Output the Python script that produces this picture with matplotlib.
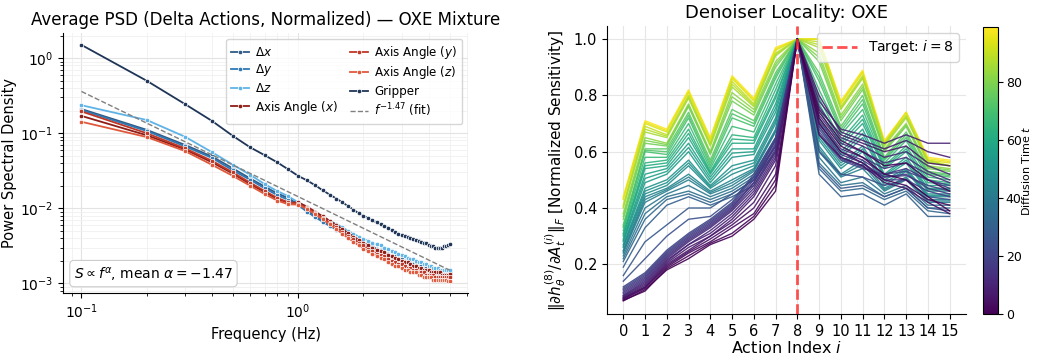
import matplotlib
matplotlib.use("Agg")
import matplotlib.pyplot as plt
import numpy as np

# ---------------- Left panel data ----------------
freqs = [0.1, 0.2, 0.3, 0.4, 0.5, 0.6, 0.7, 0.8, 0.9, 1.0,
         1.1, 1.2, 1.3, 1.4, 1.5, 1.6, 1.7, 1.8, 1.9, 2.0,
         2.1, 2.2, 2.3, 2.4, 2.5, 2.6, 2.7, 2.8, 2.9, 3.0,
         3.1, 3.2, 3.3, 3.4, 3.5, 3.6, 3.7, 3.8, 3.9, 4.0,
         4.1, 4.2, 4.3, 4.4, 4.5, 4.6, 4.7, 4.8, 4.9, 5.0]

psd_dx = [0.210, 0.111, 0.070, 0.049, 0.034, 0.025, 0.0195, 0.0158, 0.0137, 0.0113,
          0.0093, 0.0078, 0.0068, 0.0060, 0.0054, 0.0049, 0.0045, 0.0041, 0.0038, 0.0035,
          0.0033, 0.0031, 0.0029, 0.0028, 0.0026, 0.0025, 0.0024, 0.0023, 0.0022, 0.0021,
          0.0020, 0.0020, 0.0019, 0.0018, 0.0018, 0.0017, 0.0017, 0.0016, 0.0016, 0.0016,
          0.0015, 0.0015, 0.0015, 0.0014, 0.0014, 0.0014, 0.0014, 0.0014, 0.0014, 0.0014]
psd_dy = [0.203, 0.107, 0.067, 0.047, 0.032, 0.024, 0.0185, 0.0150, 0.0130, 0.0110,
          0.0090, 0.0076, 0.0066, 0.0058, 0.0052, 0.0047, 0.0043, 0.0039, 0.0036, 0.0033,
          0.0031, 0.0029, 0.0028, 0.0026, 0.0025, 0.0024, 0.0023, 0.0022, 0.0021, 0.0020,
          0.0019, 0.0019, 0.0018, 0.0017, 0.0017, 0.0016, 0.0016, 0.0015, 0.0015, 0.0015,
          0.0014, 0.0014, 0.0014, 0.0014, 0.0013, 0.0013, 0.0013, 0.0013, 0.0013, 0.0013]
psd_dz = [0.236, 0.150, 0.090, 0.056, 0.038, 0.028, 0.021, 0.017, 0.0145, 0.0120,
          0.0100, 0.0086, 0.0076, 0.0068, 0.0062, 0.0056, 0.0050, 0.0046, 0.0042, 0.0039,
          0.0037, 0.0035, 0.0033, 0.0032, 0.0030, 0.0029, 0.0027, 0.0026, 0.0025, 0.0024,
          0.0023, 0.0022, 0.0021, 0.0021, 0.0020, 0.0019, 0.0019, 0.0018, 0.0018, 0.0017,
          0.0017, 0.0016, 0.0016, 0.0016, 0.0015, 0.0015, 0.0015, 0.0015, 0.0015, 0.0015]
psd_aax = [0.170, 0.094, 0.061, 0.041, 0.029, 0.021, 0.0165, 0.0133, 0.0118, 0.0120,
           0.0105, 0.0090, 0.0078, 0.0068, 0.0060, 0.0053, 0.0047, 0.0042, 0.0038, 0.0035,
           0.0032, 0.0030, 0.0028, 0.0027, 0.0026, 0.0024, 0.0023, 0.0022, 0.0021, 0.0020,
           0.0019, 0.0019, 0.0018, 0.0017, 0.0017, 0.0016, 0.0016, 0.0015, 0.0015, 0.0015,
           0.0014, 0.0014, 0.0014, 0.0014, 0.0014, 0.0013, 0.0013, 0.0013, 0.0013, 0.00135]
psd_aay = [0.195, 0.100, 0.063, 0.043, 0.030, 0.022, 0.017, 0.0138, 0.0120, 0.0115,
           0.0100, 0.0086, 0.0074, 0.0064, 0.0056, 0.0049, 0.0043, 0.0039, 0.0035, 0.0032,
           0.0029, 0.0027, 0.0025, 0.0024, 0.0023, 0.0021, 0.0020, 0.0019, 0.0018, 0.0018,
           0.0017, 0.0016, 0.0016, 0.0015, 0.0015, 0.0014, 0.0014, 0.0014, 0.0013, 0.0013,
           0.0013, 0.0013, 0.0012, 0.0012, 0.0012, 0.0012, 0.0012, 0.0012, 0.0012, 0.0012]
psd_aaz = [0.142, 0.089, 0.058, 0.038, 0.027, 0.020, 0.0155, 0.0127, 0.0113, 0.0112,
           0.0097, 0.0083, 0.0071, 0.0061, 0.0053, 0.0046, 0.0040, 0.0036, 0.0032, 0.0029,
           0.0027, 0.0025, 0.0023, 0.0022, 0.0021, 0.0019, 0.0018, 0.0017, 0.0017, 0.0016,
           0.0015, 0.0015, 0.0014, 0.0014, 0.0014, 0.0013, 0.0013, 0.0012, 0.0012, 0.0012,
           0.0012, 0.0011, 0.0011, 0.0011, 0.0011, 0.0011, 0.0011, 0.0011, 0.00107, 0.00107]
psd_grip = [1.50, 0.50, 0.245, 0.146, 0.092, 0.065, 0.051, 0.041, 0.033, 0.027,
            0.0235, 0.0202, 0.0173, 0.0152, 0.0135, 0.0120, 0.0107, 0.0096, 0.0086, 0.0080,
            0.0074, 0.0069, 0.0065, 0.0061, 0.0058, 0.0055, 0.0051, 0.0049, 0.0046, 0.0044,
            0.0043, 0.0041, 0.0040, 0.0039, 0.0038, 0.0037, 0.0036, 0.0035, 0.0034, 0.0032,
            0.0031, 0.0031, 0.0030, 0.0030, 0.0030, 0.0030, 0.0031, 0.0031, 0.0032, 0.0033]

series_labels = [r"$\Delta x$", r"$\Delta y$", r"$\Delta z$", r"Axis Angle ($x$)",
                 r"Axis Angle ($y$)", r"Axis Angle ($z$)", "Gripper"]
series_values = [psd_dx, psd_dy, psd_dz, psd_aax, psd_aay, psd_aaz, psd_grip]
series_colors = ["#2f5b86", "#3279b3", "#5fb3e6", "#8e1d16", "#bf3727", "#e0583b", "#1f3557"]

fit_alpha = -1.47
fit_freq = [0.1, 5.0]
fit_psd = [0.36, 0.0015]

# ---------------- Right panel data ----------------
action_index = list(range(16))
diff_times = [0, 3, 6, 9, 12, 15, 18, 21, 24, 27, 30, 33, 36, 39, 42, 45, 48, 51, 54,
              57, 60, 64, 67, 70, 74, 78, 82, 86, 90, 94, 99,
              1, 5, 8, 11, 14, 17, 20, 62, 72, 80, 88, 96, 44, 50, 56]
sensitivity = [
    [0.07, 0.11, 0.18, 0.22, 0.27, 0.30, 0.36, 0.46, 1.0, 0.72, 0.62, 0.58, 0.52, 0.50, 0.44, 0.39],
    [0.075, 0.115, 0.19, 0.24, 0.28, 0.33, 0.38, 0.50, 1.0, 0.70, 0.60, 0.56, 0.50, 0.48, 0.43, 0.41],
    [0.08, 0.12, 0.20, 0.25, 0.30, 0.35, 0.42, 0.55, 1.0, 0.75, 0.66, 0.63, 0.60, 0.62, 0.56, 0.55],
    [0.085, 0.13, 0.21, 0.27, 0.31, 0.37, 0.45, 0.58, 1.0, 0.78, 0.68, 0.66, 0.63, 0.66, 0.63, 0.63],
    [0.09, 0.14, 0.22, 0.28, 0.33, 0.39, 0.47, 0.60, 1.0, 0.73, 0.63, 0.60, 0.56, 0.58, 0.53, 0.50],
    [0.10, 0.15, 0.23, 0.29, 0.34, 0.40, 0.49, 0.62, 1.0, 0.70, 0.60, 0.57, 0.52, 0.54, 0.50, 0.47],
    [0.11, 0.16, 0.24, 0.30, 0.35, 0.41, 0.50, 0.64, 1.0, 0.68, 0.58, 0.55, 0.50, 0.50, 0.46, 0.44],
    [0.12, 0.17, 0.25, 0.31, 0.36, 0.42, 0.52, 0.65, 1.0, 0.66, 0.57, 0.54, 0.52, 0.53, 0.50, 0.48],
    [0.14, 0.22, 0.30, 0.36, 0.37, 0.43, 0.51, 0.62, 1.0, 0.60, 0.52, 0.51, 0.48, 0.50, 0.44, 0.43],
    [0.16, 0.28, 0.34, 0.40, 0.40, 0.45, 0.50, 0.60, 1.0, 0.55, 0.47, 0.48, 0.44, 0.47, 0.40, 0.39],
    [0.19, 0.33, 0.41, 0.44, 0.41, 0.44, 0.48, 0.60, 1.0, 0.52, 0.44, 0.45, 0.41, 0.45, 0.37, 0.37],
    [0.21, 0.36, 0.43, 0.45, 0.42, 0.45, 0.50, 0.62, 1.0, 0.54, 0.46, 0.47, 0.43, 0.46, 0.39, 0.38],
    [0.22, 0.38, 0.44, 0.46, 0.43, 0.46, 0.51, 0.64, 1.0, 0.56, 0.48, 0.49, 0.44, 0.47, 0.40, 0.40],
    [0.23, 0.40, 0.45, 0.48, 0.44, 0.47, 0.52, 0.65, 1.0, 0.58, 0.49, 0.51, 0.45, 0.48, 0.41, 0.41],
    [0.24, 0.42, 0.46, 0.50, 0.45, 0.48, 0.53, 0.67, 1.0, 0.60, 0.51, 0.54, 0.46, 0.50, 0.42, 0.42],
    [0.25, 0.44, 0.47, 0.52, 0.46, 0.50, 0.54, 0.68, 1.0, 0.62, 0.52, 0.57, 0.47, 0.51, 0.43, 0.43],
    [0.26, 0.45, 0.48, 0.55, 0.47, 0.52, 0.55, 0.70, 1.0, 0.64, 0.54, 0.60, 0.48, 0.53, 0.44, 0.44],
    [0.27, 0.47, 0.50, 0.57, 0.48, 0.55, 0.57, 0.72, 1.0, 0.66, 0.56, 0.62, 0.50, 0.54, 0.45, 0.45],
    [0.28, 0.49, 0.52, 0.60, 0.49, 0.58, 0.59, 0.74, 1.0, 0.69, 0.58, 0.65, 0.51, 0.56, 0.46, 0.46],
    [0.29, 0.52, 0.54, 0.63, 0.51, 0.61, 0.61, 0.77, 1.0, 0.72, 0.60, 0.68, 0.52, 0.58, 0.47, 0.47],
    [0.30, 0.54, 0.55, 0.65, 0.52, 0.63, 0.63, 0.79, 1.0, 0.75, 0.62, 0.70, 0.54, 0.60, 0.48, 0.48],
    [0.31, 0.56, 0.57, 0.68, 0.53, 0.66, 0.65, 0.82, 1.0, 0.79, 0.64, 0.73, 0.55, 0.62, 0.50, 0.49],
    [0.32, 0.58, 0.58, 0.70, 0.54, 0.69, 0.67, 0.84, 1.0, 0.82, 0.66, 0.75, 0.56, 0.64, 0.51, 0.50],
    [0.33, 0.60, 0.59, 0.72, 0.55, 0.72, 0.69, 0.86, 1.0, 0.85, 0.67, 0.77, 0.57, 0.65, 0.52, 0.51],
    [0.34, 0.61, 0.61, 0.74, 0.57, 0.75, 0.71, 0.88, 1.0, 0.88, 0.69, 0.80, 0.58, 0.67, 0.53, 0.52],
    [0.36, 0.63, 0.62, 0.76, 0.59, 0.78, 0.73, 0.90, 1.0, 0.92, 0.71, 0.82, 0.60, 0.69, 0.54, 0.53],
    [0.38, 0.65, 0.63, 0.77, 0.60, 0.81, 0.75, 0.92, 1.0, 0.95, 0.73, 0.84, 0.61, 0.70, 0.55, 0.54],
    [0.40, 0.67, 0.65, 0.79, 0.62, 0.83, 0.76, 0.94, 1.0, 0.97, 0.75, 0.86, 0.62, 0.72, 0.56, 0.55],
    [0.41, 0.69, 0.66, 0.80, 0.63, 0.85, 0.77, 0.95, 1.0, 0.99, 0.76, 0.87, 0.63, 0.73, 0.57, 0.55],
    [0.43, 0.70, 0.67, 0.81, 0.64, 0.86, 0.78, 0.96, 1.0, 1.0, 0.77, 0.88, 0.63, 0.74, 0.57, 0.56],
    [0.44, 0.71, 0.68, 0.82, 0.65, 0.87, 0.79, 0.97, 1.0, 1.0, 0.78, 0.89, 0.64, 0.74, 0.58, 0.57],
    [0.072, 0.105, 0.185, 0.23, 0.275, 0.31, 0.37, 0.48, 1.0, 0.74, 0.64, 0.60, 0.55, 0.56, 0.50, 0.46],
    [0.078, 0.118, 0.195, 0.245, 0.29, 0.34, 0.40, 0.52, 1.0, 0.66, 0.58, 0.55, 0.49, 0.47, 0.42, 0.38],
    [0.082, 0.125, 0.205, 0.26, 0.30, 0.36, 0.44, 0.57, 1.0, 0.80, 0.67, 0.64, 0.61, 0.64, 0.60, 0.58],
    [0.088, 0.135, 0.215, 0.27, 0.32, 0.38, 0.46, 0.59, 1.0, 0.76, 0.65, 0.62, 0.58, 0.60, 0.55, 0.52],
    [0.095, 0.145, 0.225, 0.285, 0.335, 0.395, 0.48, 0.61, 1.0, 0.71, 0.61, 0.58, 0.54, 0.56, 0.52, 0.49],
    [0.105, 0.155, 0.235, 0.295, 0.345, 0.405, 0.49, 0.63, 1.0, 0.69, 0.59, 0.56, 0.51, 0.52, 0.47, 0.45],
    [0.115, 0.165, 0.245, 0.305, 0.355, 0.415, 0.51, 0.645, 1.0, 0.67, 0.575, 0.545, 0.51, 0.515, 0.48, 0.46],
    [0.305, 0.55, 0.56, 0.665, 0.525, 0.645, 0.64, 0.80, 1.0, 0.77, 0.63, 0.715, 0.545, 0.61, 0.49, 0.485],
    [0.335, 0.605, 0.60, 0.73, 0.56, 0.735, 0.70, 0.87, 1.0, 0.865, 0.68, 0.785, 0.575, 0.66, 0.525, 0.515],
    [0.37, 0.64, 0.625, 0.765, 0.595, 0.795, 0.74, 0.91, 1.0, 0.935, 0.72, 0.83, 0.605, 0.695, 0.545, 0.535],
    [0.405, 0.68, 0.655, 0.795, 0.625, 0.84, 0.765, 0.945, 1.0, 0.98, 0.755, 0.865, 0.625, 0.725, 0.565, 0.55],
    [0.435, 0.705, 0.675, 0.815, 0.645, 0.865, 0.785, 0.965, 1.0, 1.0, 0.775, 0.885, 0.635, 0.74, 0.575, 0.565],
    [0.245, 0.43, 0.465, 0.51, 0.455, 0.49, 0.535, 0.675, 1.0, 0.61, 0.515, 0.555, 0.465, 0.505, 0.425, 0.425],
    [0.265, 0.46, 0.49, 0.56, 0.475, 0.535, 0.56, 0.71, 1.0, 0.65, 0.55, 0.61, 0.49, 0.535, 0.445, 0.445],
    [0.285, 0.505, 0.53, 0.615, 0.50, 0.595, 0.60, 0.755, 1.0, 0.705, 0.59, 0.665, 0.515, 0.57, 0.465, 0.465],
]
target_index = 8
t_max = 99

# ---------------- Figure ----------------
plt.rcParams['font.family'] = ['DejaVu Sans']
fig = plt.figure(figsize=(10.37, 3.56), dpi=100)

ax1 = fig.add_axes([0.0608, 0.177, 0.3905, 0.730])
for vals, lab, col in zip(series_values, series_labels, series_colors):
    ax1.plot(freqs, vals, color=col, lw=1.3, marker='o', ms=3.2,
             mec='white', mew=0.5, label=lab)
ax1.plot(fit_freq, fit_psd, ls='--', color='gray', lw=1.0,
         label=r"$f^{%.2f}$ (fit)" % fit_alpha)
ax1.set_xscale('log')
ax1.set_yscale('log')
ax1.grid(True, which='major', color='#e3e3e3', lw=0.8)
ax1.grid(True, which='minor', color='#f0f0f0', lw=0.6)
ax1.set_axisbelow(True)
for s in ['top', 'right']:
    ax1.spines[s].set_visible(False)
ax1.tick_params(labelsize=10)
ax1.set_xlabel("Frequency (Hz)", fontsize=10.5)
ax1.set_ylabel("Power Spectral Density", fontsize=10.5, labelpad=2)
ax1.set_title("Average PSD (Delta Actions, Normalized) — OXE Mixture", fontsize=12)
ax1.legend(ncol=2, fontsize=8.6, loc='upper right', frameon=True,
           handlelength=1.5, handletextpad=0.5, columnspacing=1.0,
           labelspacing=0.3, borderpad=0.4)
ax1.text(0.027, 0.04, r"$S \propto f^{\alpha}$, mean $\alpha = %.2f$" % fit_alpha,
         transform=ax1.transAxes, fontsize=10, va='bottom', ha='left',
         bbox=dict(boxstyle='round,pad=0.3', fc='white', ec='#cccccc', lw=0.8))

ax2 = fig.add_axes([0.5853, 0.118, 0.3462, 0.809])
cmap = plt.get_cmap('viridis')
norm = plt.Normalize(0, t_max)
for t, vals in sorted(zip(diff_times, sensitivity), key=lambda p: -p[0]):
    ax2.plot(action_index, vals, color=cmap(norm(t)), lw=1.0, alpha=0.9)
ax2.axvline(target_index, color='#ff3333', ls='--', lw=2, alpha=0.85,
            label=r"Target: $i = %d$" % target_index)
ax2.set_xticks(action_index)
ax2.tick_params(labelsize=10.5)
ax2.grid(True, color='#e6e6e6', lw=0.8)
ax2.set_axisbelow(True)
for s in ['top', 'right']:
    ax2.spines[s].set_visible(False)
ax2.set_xlabel(r"Action Index $i$", fontsize=11.5, labelpad=1)
ax2.set_ylabel(r"$\Vert\partial h_\theta^{(8)} / \partial A_t^{(i)}\Vert_F$ [Normalized Sensitivity]",
               fontsize=11)
ax2.set_title("Denoiser Locality: OXE", fontsize=13)
ax2.legend(loc='upper right', fontsize=10, handlelength=2.5)

cax = fig.add_axes([0.948, 0.118, 0.0145, 0.806])
sm = plt.cm.ScalarMappable(cmap=cmap, norm=norm)
cb = fig.colorbar(sm, cax=cax)
cb.set_ticks([0, 20, 40, 60, 80])
cb.ax.tick_params(labelsize=9, pad=2)
cb.set_label(r"Diffusion Time $t$", fontsize=8, labelpad=-1)

fig.savefig("out.png", dpi=100)
